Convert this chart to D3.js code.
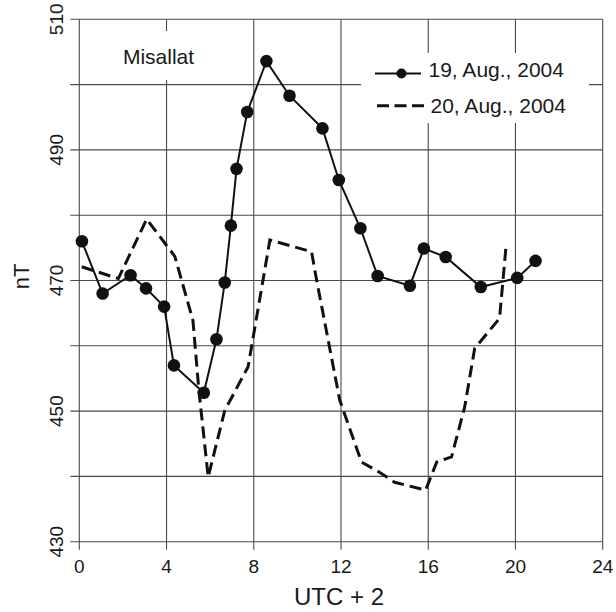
<!DOCTYPE html>
<html>
<head>
<meta charset="utf-8">
<script src="https://cdn.jsdelivr.net/npm/d3@7/dist/d3.min.js"></script>
<style>
  body { margin: 0; background: #fff; }
  text { font-family: "Liberation Sans", Arial, Helvetica, sans-serif; fill: #1a1a1a; }
</style>
</head>
<body>
<div id="chart"></div>
<script>
// 19 Aug 2004, hourly-ish samples (UTC+2 hours, nT)
const day19Hours = [0.12, 1.07, 2.35, 3.06, 3.89, 4.34, 5.71, 6.29, 6.67, 6.95, 7.21, 7.70,
  8.58, 9.64, 11.15, 11.9, 12.89, 13.68, 15.16, 15.8, 16.8, 18.41, 20.08, 20.92];
const day19Values = [476.0, 468.0, 470.8, 468.8, 466.0, 457.0, 452.8, 461.0, 469.7, 478.4, 487.1, 495.8,
  503.6, 498.3, 493.3, 485.4, 478.0, 470.7, 469.2, 474.9, 473.6, 469.0, 470.4, 473.0];

// 20 Aug 2004, dashed trace
const day20Hours = [0.11, 1.79, 3.09, 4.38, 5.21, 5.48, 5.91, 6.67, 7.74, 8.74, 10.65, 10.84,
  11.94, 12.94, 13.78, 14.46, 15.88, 16.39, 17.07, 17.67, 18.13, 19.27, 19.58];
const day20Values = [472.1, 470.3, 479.4, 473.7, 463.9, 453.3, 439.9, 450.1, 456.8, 476.2, 474.4, 470.8,
  451.7, 442.2, 440.6, 439.1, 437.9, 442.2, 443.0, 450.6, 459.6, 464.2, 475.7];

const xTicks = [0, 4, 8, 12, 16, 20, 24];
const yTicks = [430, 450, 470, 490, 510];
const seriesNames = ['19, Aug., 2004', '20, Aug., 2004'];
const stationName = 'Misallat';

const width = 616, height = 612;
const margin = { top: 19.3, right: 13.3, bottom: 70.3, left: 79.3 };
const plotW = width - margin.left - margin.right;
const plotH = height - margin.top - margin.bottom;

const svg = d3.select('#chart').append('svg')
  .attr('width', width)
  .attr('height', height);

const g = svg.append('g').attr('transform', `translate(${margin.left},${margin.top})`);

const x = d3.scaleLinear().domain([0, 24]).range([0, plotW]);
const y = d3.scaleLinear().domain([430, 510]).range([plotH, 0]);

// grid lines (every 4 h, every 10 nT), extended outward as ticks
const gridColor = '#4a4a4a';
g.append('g').selectAll('line')
  .data(d3.range(430, 511, 10))
  .join('line')
  .attr('x1', -9).attr('x2', plotW)
  .attr('y1', d => y(d)).attr('y2', d => y(d))
  .attr('stroke', gridColor).attr('stroke-width', 1.1);

g.append('g').selectAll('line')
  .data(d3.range(0, 25, 4))
  .join('line')
  .attr('x1', d => x(d)).attr('x2', d => x(d))
  .attr('y1', 0).attr('y2', plotH + 8)
  .attr('stroke', gridColor).attr('stroke-width', 1.1);

// white patches behind the label and legend
g.append('rect')
  .attr('x', x(1.5)).attr('y', 31 - margin.top)
  .attr('width', x(5.8) - x(1.5)).attr('height', 49)
  .attr('fill', '#fff');
g.append('rect')
  .attr('x', 361 - margin.left).attr('y', 53 - margin.top)
  .attr('width', 228).attr('height', 70)
  .attr('fill', '#fff');

// axis tick labels
g.append('g').selectAll('text')
  .data(xTicks)
  .join('text')
  .attr('x', d => x(d))
  .attr('y', plotH + 31)
  .attr('text-anchor', 'middle')
  .style('font-size', '19px')
  .text(d => d);

g.append('g').selectAll('text')
  .data(yTicks)
  .join('text')
  .attr('transform', d => `translate(-16,${y(d)}) rotate(-90)`)
  .attr('text-anchor', 'middle')
  .style('font-size', '19px')
  .text(d => d);

// axis titles
svg.append('text')
  .attr('x', margin.left + x(12) - 2)
  .attr('y', 605)
  .attr('text-anchor', 'middle')
  .style('font-size', '24px')
  .text('UTC + 2');

svg.append('text')
  .attr('transform', `translate(28.5,${margin.top + y(470) - 4}) rotate(-90)`)
  .attr('text-anchor', 'middle')
  .style('font-size', '22px')
  .text('nT');

svg.append('text')
  .attr('x', 158.5).attr('y', 64)
  .attr('text-anchor', 'middle')
  .style('font-size', '21px')
  .text(stationName);

// data lines
const day19 = day19Hours.map((h, i) => ({ h, v: day19Values[i] }));
const day20 = day20Hours.map((h, i) => ({ h, v: day20Values[i] }));

const line = d3.line().x(d => x(d.h)).y(d => y(d.v));

g.append('path')
  .datum(day20)
  .attr('d', line)
  .attr('fill', 'none')
  .attr('stroke', '#111')
  .attr('stroke-width', 3)
  .attr('stroke-dasharray', '12,6');

g.append('path')
  .datum(day19)
  .attr('d', line)
  .attr('fill', 'none')
  .attr('stroke', '#111')
  .attr('stroke-width', 2);

g.append('g').selectAll('circle')
  .data(day19)
  .join('circle')
  .attr('cx', d => x(d.h))
  .attr('cy', d => y(d.v))
  .attr('r', 6.3)
  .attr('fill', '#111');

// legend
const legend = svg.append('g');
legend.append('line')
  .attr('x1', 375).attr('x2', 421).attr('y1', 73.5).attr('y2', 73.5)
  .attr('stroke', '#111').attr('stroke-width', 2);
legend.append('circle')
  .attr('cx', 401.5).attr('cy', 73.5).attr('r', 5)
  .attr('fill', '#111');
legend.append('line')
  .attr('x1', 377).attr('x2', 424).attr('y1', 105.7).attr('y2', 105.7)
  .attr('stroke', '#111').attr('stroke-width', 3)
  .attr('stroke-dasharray', '12,5.5');
legend.selectAll('text')
  .data(seriesNames)
  .join('text')
  .attr('x', (d, i) => 428.5 + i * 2)
  .attr('y', (d, i) => 76.5 + i * 36.5)
  .style('font-size', '21px')
  .text(d => d);
</script>
</body>
</html>
